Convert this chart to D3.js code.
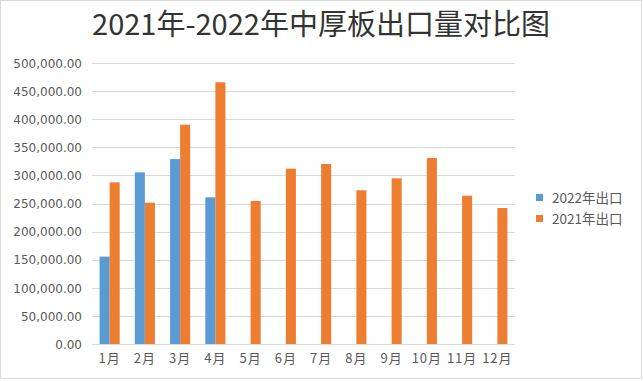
<!DOCTYPE html>
<html>
<head>
<meta charset="utf-8">
<script src="https://cdn.jsdelivr.net/npm/d3@7"></script>
<style>
    body { margin: 0; background: #fff; }
    svg { display: block; }
</style>
</head>
<body>
<svg id="chart" width="643" height="381"></svg>
<script>
// data
var months = ['1月', '2月', '3月', '4月', '5月', '6月', '7月', '8月', '9月', '10月', '11月', '12月'];
var exports2022 = [155500, 305500, 329000, 261000, null, null, null, null, null, null, null, null];
var exports2021 = [287700, 251500, 390200, 465700, 254500, 312000, 320300, 273500, 294800, 331000, 263900, 242000];
var seriesNames = ['2022年出口', '2021年出口'];
var seriesColors = ['#5b9bd5', '#ed7d31'];
var yTicks = [0, 50000, 100000, 150000, 200000, 250000, 300000, 350000, 400000, 450000, 500000];

var svg = d3.select('#chart');
var font = '"Noto Sans CJK SC", "DejaVu Sans", sans-serif';

var plot = { left: 92, right: 515, top: 63, bottom: 344 };

// outer chart border
svg.append('rect')
    .attr('x', 0.5).attr('y', 0.5)
    .attr('width', 641).attr('height', 378)
    .attr('fill', '#fff')
    .attr('stroke', '#d9d9d9');

svg.append('text')
    .attr('x', 321).attr('y', 35)
    .attr('text-anchor', 'middle')
    .style('font-family', font)
    .style('font-size', '29px')
    .style('fill', '#333')
    .text('2021年-2022年中厚板出口量对比图');

var x = d3.scaleBand()
    .domain(months)
    .range([plot.left, plot.right])
    .paddingInner(0.43)
    .paddingOuter(0.215);

var xs = d3.scaleBand()
    .domain([0, 1])
    .range([0, x.bandwidth()]);

var y = d3.scaleLinear()
    .domain([0, 500000])
    .range([plot.bottom, plot.top]);

var fmt = d3.format(',.2f');

// gridlines
svg.append('g').selectAll('line')
    .data(yTicks)
    .enter().append('line')
    .attr('x1', plot.left).attr('x2', plot.right)
    .attr('y1', function (d) { return Math.round(y(d)) + 0.5; })
    .attr('y2', function (d) { return Math.round(y(d)) + 0.5; })
    .attr('stroke', '#d9d9d9')
    .attr('stroke-width', 1);

var yAxis = svg.append('g')
    .attr('transform', 'translate(' + (plot.left - 10) + ',0)')
    .call(d3.axisLeft(y).tickValues(yTicks).tickFormat(fmt).tickSize(0).tickPadding(0));
yAxis.select('.domain').remove();
yAxis.selectAll('text')
    .attr('dy', '0.35em')
    .style('font-family', '"DejaVu Sans", sans-serif')
    .style('font-size', '12px')
    .style('fill', '#595959');

var xAxis = svg.append('g')
    .attr('transform', 'translate(0,' + plot.bottom + ')')
    .call(d3.axisBottom(x).tickSize(0).tickPadding(10));
xAxis.select('.domain').remove();
xAxis.selectAll('text')
    .style('font-family', font)
    .style('font-size', '13px')
    .style('letter-spacing', '1px')
    .style('fill', '#595959');

var series = [exports2022, exports2021];
series.forEach(function (values, si) {
    svg.append('g').selectAll('rect')
        .data(values.map(function (v, i) { return { m: months[i], v: v }; })
            .filter(function (d) { return d.v !== null; }))
        .enter().append('rect')
        .attr('x', function (d) { return x(d.m) + xs(si); })
        .attr('width', xs.bandwidth())
        .attr('y', function (d) { return y(d.v); })
        .attr('height', function (d) { return plot.bottom - y(d.v); })
        .attr('fill', seriesColors[si]);
});

// legend
var legend = svg.append('g');
seriesNames.forEach(function (name, i) {
    var ly = 198 + i * 21;
    legend.append('rect')
        .attr('x', 536).attr('y', ly - 4)
        .attr('width', 7).attr('height', 7)
        .attr('fill', seriesColors[i]);
    legend.append('text')
        .attr('x', 552).attr('y', ly)
        .attr('dy', '0.35em')
        .style('font-family', font)
        .style('font-size', '13.5px')
        .style('fill', '#595959')
        .text(name);
});
</script>
</body>
</html>
